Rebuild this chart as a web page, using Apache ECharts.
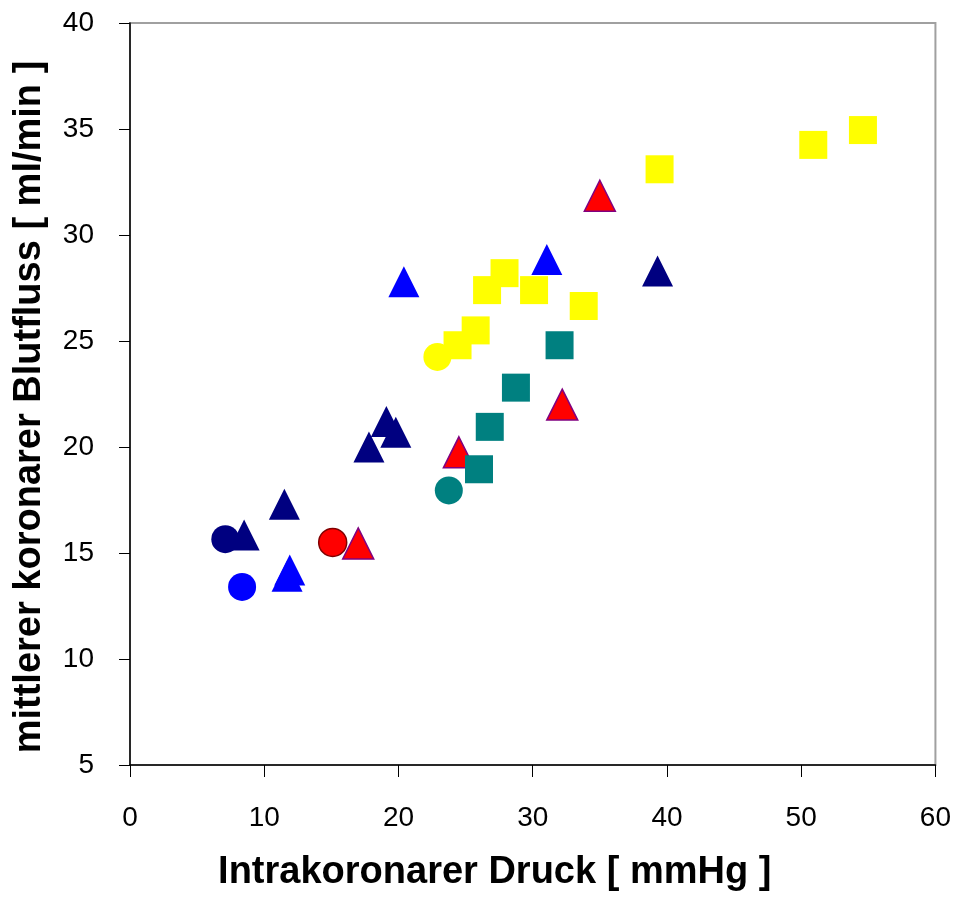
<!DOCTYPE html>
<html>
<head>
<meta charset="utf-8" />
<title>Blutfluss</title>
<script src="https://cdn.jsdelivr.net/npm/echarts@6/dist/echarts.min.js"></script>
</head>
<body style="margin:0;background:#fff;">
<div id="chart" style="width:954px;height:897px;"></div>
<script>
// [Druck, Fluss]
var navyCircle = [[7.1, 15.65]];
var navyTriangle = [[8.5, 15.85], [11.5, 17.3], [17.8, 20.0], [19.1, 21.2], [19.8, 20.7], [39.3, 28.3]];
var blueCircle = [[8.35, 13.4]];
var blueTriangle = [[11.9, 14.2], [11.7, 13.9], [20.4, 27.8], [31.05, 28.85]];
var redCircle = [[15.1, 15.5]];
var redTriangle = [[17.0, 15.45], [24.5, 19.75], [32.2, 22.0], [35.0, 31.85]];
var tealCircle = [[23.75, 17.95]];
var tealSquare = [[26.0, 18.95], [26.8, 20.95], [28.75, 22.8], [32.0, 24.8]];
var yellowCircle = [[22.9, 24.25]];
var yellowSquare = [[24.4, 24.8], [25.75, 25.5], [26.6, 27.4], [27.9, 28.2], [30.1, 27.4],
  [33.8, 26.65], [39.45, 33.1], [50.9, 34.25], [54.6, 34.95]];

var xTicks = [0, 10, 20, 30, 40, 50, 60];
var yTicks = [5, 10, 15, 20, 25, 30, 35, 40];

function ser(data, symbol, size, color, border) {
  return {
    type: 'scatter',
    data: data,
    symbol: symbol,
    symbolSize: size,
    itemStyle: {
      color: color,
      opacity: 1,
      borderColor: border || color,
      borderWidth: border ? 1.5 : 0
    },
    emphasis: { disabled: true },
    animation: false
  };
}

var chart = echarts.init(document.getElementById('chart'));
var option = {
  animation: false,
  textStyle: { fontFamily: 'Liberation Sans, Arial, sans-serif' },
  grid: {
    left: 130, right: 17, top: 23, bottom: 132,
    show: true, borderColor: '#a0a0a0', borderWidth: 2, backgroundColor: '#fff'
  },
  xAxis: {
    type: 'value',
    min: xTicks[0], max: xTicks[xTicks.length - 1], interval: 10,
    axisLine: { show: true, onZero: false, lineStyle: { color: '#000', width: 1.5 } },
    axisTick: { show: true, length: 12, lineStyle: { color: '#000' } },
    axisLabel: { color: '#000', fontSize: 28, margin: 39 },
    splitLine: { show: false },
    name: 'Intrakoronarer Druck [ mmHg ]',
    nameLocation: 'middle',
    nameGap: 89,
    nameTextStyle: { color: '#000', fontSize: 38, fontWeight: 'bold', padding: [0, 76, 0, 0] }
  },
  yAxis: {
    type: 'value',
    min: yTicks[0], max: yTicks[yTicks.length - 1], interval: 5,
    axisLine: { show: true, onZero: false, lineStyle: { color: '#000', width: 1.5 } },
    axisTick: { show: true, length: 11, lineStyle: { color: '#000' } },
    axisLabel: { color: '#000', fontSize: 28, margin: 36 },
    splitLine: { show: false },
    name: 'mittlerer koronarer Blutfluss [ ml/min ]',
    nameLocation: 'middle',
    nameGap: 81,
    nameTextStyle: { color: '#000', fontSize: 38, fontWeight: 'bold', padding: [0, 26, 0, 0] }
  },
  series: [
    ser(navyCircle, 'circle', 28, '#000080'),
    ser(navyTriangle, 'triangle', [31, 31], '#000080'),
    ser(blueCircle, 'circle', 28, '#0000ff'),
    ser(blueTriangle, 'triangle', [31, 31], '#0000ff'),
    ser(redCircle, 'circle', 28, '#ff0000', '#800000'),
    ser(redTriangle, 'triangle', [31, 31], '#ff0000', '#800080'),
    ser(tealCircle, 'circle', 28, '#008080'),
    ser(tealSquare, 'rect', 28, '#008080'),
    ser(yellowCircle, 'circle', 28, '#ffff00'),
    ser(yellowSquare, 'rect', 28, '#ffff00')
  ]
};
chart.setOption(option);
</script>
</body>
</html>
